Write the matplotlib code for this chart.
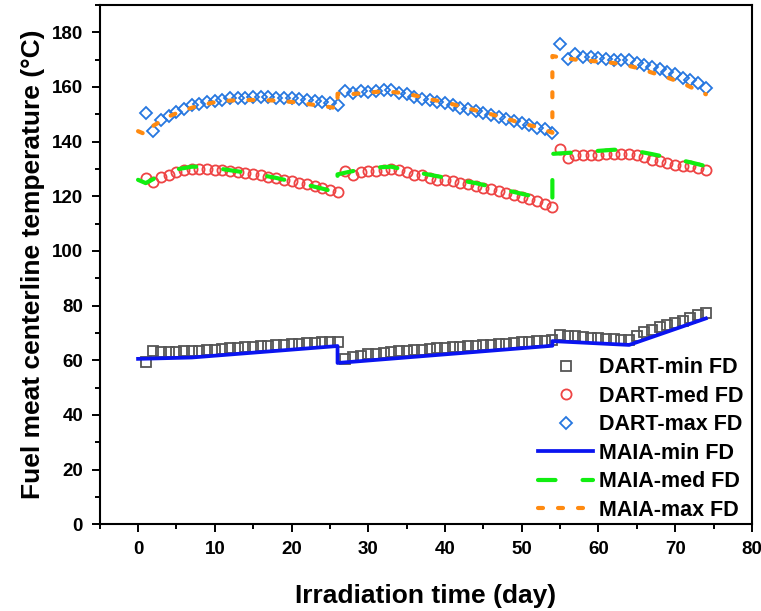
import matplotlib
matplotlib.use("Agg")
import matplotlib.pyplot as plt
from matplotlib.ticker import MultipleLocator

# DART results, one point per day
dart_days = [1, 2, 3, 4, 5, 6, 7, 8, 9, 10, 11, 12, 13, 14, 15, 16, 17, 18, 19, 20,
             21, 22, 23, 24, 25, 26,
             27, 28, 29, 30, 31, 32, 33, 34, 35, 36, 37, 38, 39, 40, 41, 42, 43, 44,
             45, 46, 47, 48, 49, 50, 51, 52, 53, 54,
             55, 56, 57, 58, 59, 60, 61, 62, 63, 64, 65, 66, 67, 68, 69, 70, 71, 72,
             73, 74]

dart_min = [59.5, 63.2, 63.1, 63.1, 63.1, 63.2, 63.3, 63.5, 63.7, 63.9, 64.1, 64.3, 64.5,
            64.7, 64.9, 65.1, 65.3, 65.5, 65.7, 65.9, 66.1, 66.3, 66.4, 66.6, 66.7, 66.8,
            60.5, 61.2, 61.7, 62.1, 62.4, 62.7, 63.0, 63.3, 63.5, 63.7, 63.9, 64.1, 64.3,
            64.5, 64.7, 64.9, 65.1, 65.3, 65.5, 65.7, 65.9, 66.1, 66.3, 66.5, 66.7, 66.9,
            67.1, 67.3,
            69.3, 68.9, 68.7, 68.5, 68.3, 68.1, 67.9, 67.7, 67.5, 67.3, 68.8, 70.2, 71.0,
            72.0, 72.9, 73.7, 74.5, 75.4, 76.4, 77.3]

dart_med = [126.7, 125.3, 127.1, 127.9, 128.8, 129.5, 130.0, 130.1, 130.0, 129.7, 129.5,
            129.2, 128.8, 128.4, 128.0, 127.6, 127.1, 126.6, 126.1, 125.6, 125.0, 124.4,
            123.8, 123.1, 122.4, 121.5,
            129.2, 127.9, 128.8, 129.1, 129.1, 129.5, 130.0, 129.5, 128.8, 127.9, 127.6,
            126.7, 126.1, 125.9, 125.5, 124.9, 124.3, 123.7, 123.1, 122.7, 121.8, 121.0,
            120.3, 119.8, 119.1, 118.2, 117.2, 116.2,
            137.3, 134.0, 134.9, 134.9, 134.9, 134.9, 135.3, 135.3, 135.3, 135.6, 134.9,
            134.4, 133.4, 132.8, 132.2, 131.6, 131.2, 131.0, 130.4, 129.5]

dart_max = [150.5, 143.8, 148.0, 149.3, 150.9, 151.8, 153.2, 153.6, 154.4, 154.8, 155.3,
            155.8, 156.0, 156.0, 156.3, 156.3, 156.3, 156.0, 156.0, 156.0, 155.5, 155.3,
            154.8, 154.6, 154.0, 153.2,
            158.5, 157.9, 158.5, 158.1, 158.5, 158.7, 158.7, 157.9, 157.3, 156.4, 155.7,
            155.1, 154.4, 154.0, 153.2, 152.4, 151.8, 151.2, 150.5, 149.7, 149.0, 148.3,
            147.7, 146.9, 145.9, 145.0, 144.5, 143.2,
            175.6, 170.3, 171.9, 171.0, 171.0, 170.7, 170.3, 170.0, 169.8, 169.8, 168.9,
            167.9, 167.3, 166.4, 165.4, 164.6, 163.4, 162.5, 161.3, 159.7]

# MAIA results (cycle breaks repeat the day)
maia_min_t = [0, 7, 26, 26, 54, 54, 64, 74]
maia_min = [60.5, 61.0, 65.2, 59.0, 65.3, 67.0, 65.6, 75.3]

maia_med_t = [0, 1, 3, 5, 7, 9, 12, 15, 18, 21, 24, 26, 26, 28, 31, 33, 36, 40, 44, 48,
              52, 54, 54, 58, 62, 64, 67, 70, 72, 74]
maia_med = [126.0, 124.8, 127.8, 129.8, 130.8, 130.8, 129.5, 128.3, 126.7, 124.8, 122.8,
            121.3, 128.0, 129.2, 130.5, 130.8, 128.9, 126.8, 124.8, 122.2, 119.6, 118.6,
            135.5, 136.2, 137.0, 137.0, 135.4, 133.6, 132.4, 131.0]

maia_max_t = [0, 1, 2, 4, 6, 8, 10, 12, 14, 16, 18, 20, 22, 24, 26, 26, 28, 30, 32, 34,
              36, 38, 40, 42, 44, 46, 48, 50, 52, 54, 54, 55, 57, 59, 61, 63, 65, 67, 69,
              71, 73, 74]
maia_max = [143.8, 142.6, 145.8, 149.2, 151.5, 153.2, 154.4, 155.0, 155.2, 155.2, 155.0,
            154.5, 153.8, 153.0, 152.2, 157.5, 157.4, 157.9, 158.4, 157.9, 156.9, 155.5,
            154.4, 152.9, 151.4, 150.0, 148.4, 146.7, 145.3, 143.2, 171.3, 170.8, 170.0,
            169.5, 169.1, 168.3, 167.0, 165.2, 163.4, 161.3, 158.6, 157.3]


def main():
    plt.rcParams['font.family'] = ['Liberation Sans', 'DejaVu Sans']
    plt.rcParams['font.weight'] = 'bold'

    fig = plt.figure(figsize=(7.61, 6.11), dpi=100)
    ax = fig.add_axes([0.131, 0.142, 0.857, 0.850])

    ax.plot(dart_days, dart_min, 's', ms=6.5, mfc='none', mec='#555555', mew=1.3,
            label='DART-min FD')
    ax.plot(dart_days, dart_med, 'o', ms=7.3, mfc='none', mec='#ee4444', mew=1.3,
            label='DART-med FD')
    ax.plot(dart_days, dart_max, 'D', ms=6.0, mfc='none', mec='#2677e0', mew=1.3,
            label='DART-max FD')

    ax.plot(maia_min_t, maia_min, '-', color='#0a14f0', lw=2.7, label='MAIA-min FD')
    ax.plot(maia_med_t, maia_med, color='#11ee11', lw=3, dashes=(4.2, 6.5),
            dash_capstyle='round', label='MAIA-med FD')
    ax.plot(maia_max_t, maia_max, color='#ff8a10', lw=3, dashes=(1.2, 3.6),
            dash_capstyle='round', label='MAIA-max FD')

    ax.set_xlim(-5, 80)
    ax.set_ylim(0, 190)
    ax.xaxis.set_major_locator(MultipleLocator(10))
    ax.xaxis.set_minor_locator(MultipleLocator(5))
    ax.yaxis.set_major_locator(MultipleLocator(20))
    ax.yaxis.set_minor_locator(MultipleLocator(10))
    ax.tick_params(which='both', direction='out', width=1.4, top=False, right=False)
    ax.tick_params(which='major', length=6, labelsize=13.5, pad=6)
    ax.tick_params(which='minor', length=3.5)
    for s in ax.spines.values():
        s.set_linewidth(1.5)
    for lbl in ax.get_xticklabels() + ax.get_yticklabels():
        lbl.set_fontweight('bold')

    ax.set_xlabel('Irradiation time (day)', fontsize=19, fontweight='bold', labelpad=19)
    ax.set_ylabel('Fuel meat centerline temperature (°C)', fontsize=19,
                  fontweight='bold', labelpad=5)

    ax.legend(loc='lower right', frameon=False, prop={'weight': 'bold', 'size': 15.5},
              handlelength=2.55, labelspacing=0.35, handletextpad=0.25,
              borderaxespad=0.0, bbox_to_anchor=(1.0, -0.01))

    fig.savefig('out.png', dpi=100)


if __name__ == "__main__":
    main()
